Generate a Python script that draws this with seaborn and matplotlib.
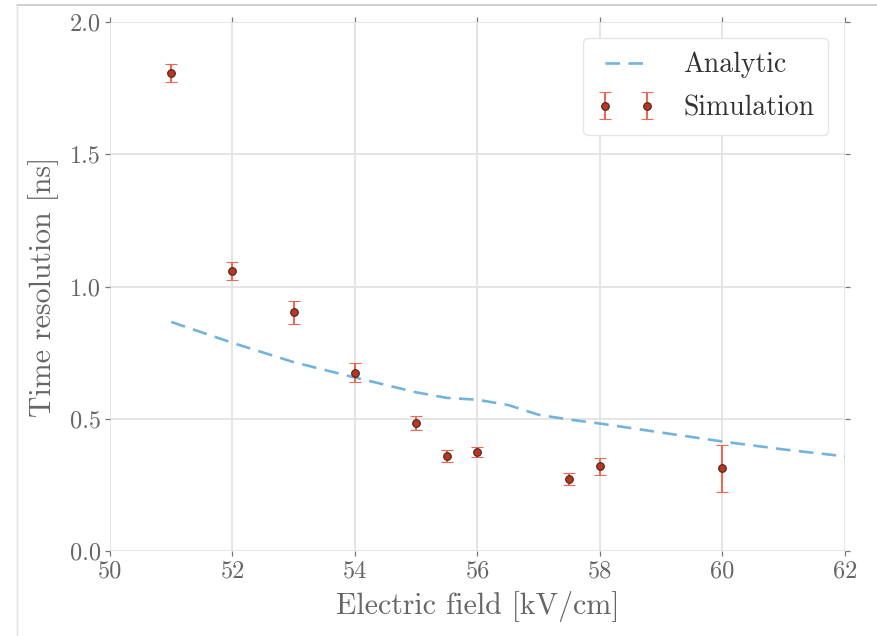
import matplotlib
matplotlib.use("Agg")
import matplotlib.pyplot as plt
import seaborn as sns
import numpy as np
import pandas as pd
from matplotlib.lines import Line2D

# ---- data ----
sim_field = [51, 52, 53, 54, 55, 55.5, 56, 57.5, 58, 60]
sim_res = [1.807, 1.058, 0.902, 0.674, 0.484, 0.359, 0.374, 0.272, 0.321, 0.313]
sim_err = [0.035, 0.033, 0.045, 0.035, 0.028, 0.024, 0.020, 0.022, 0.032, 0.088]

ana_field = [51, 52, 53, 54, 55, 55.5, 56, 56.5, 57, 57.5, 58, 59, 60, 61, 62]
ana_res = [0.866, 0.787, 0.714, 0.656, 0.600, 0.579, 0.572, 0.552, 0.515, 0.497,
           0.482, 0.448, 0.414, 0.384, 0.358]

x_ticks = [50, 52, 54, 56, 58, 60, 62]
y_ticks = [0.0, 0.5, 1.0, 1.5, 2.0]

sns.set_theme(style="whitegrid")
plt.rcParams["font.family"] = ["cmr10", "DejaVu Serif"]
plt.rcParams["mathtext.fontset"] = "cm"
plt.rcParams["axes.formatter.use_mathtext"] = True
plt.rcParams["axes.unicode_minus"] = False

text_col = "#666666"

fig = plt.figure(figsize=(8.77, 6.36), dpi=100)
ax = fig.add_axes([0.1254, 0.1336, 0.8381, 0.8318])

df_ana = pd.DataFrame({"field": ana_field, "res": ana_res})
sns.lineplot(data=df_ana, x="field", y="res", ax=ax, color="#74b3dc",
             linestyle=(0, (5.5, 3.2)), linewidth=1.9, label="Analytic")

ax.errorbar(sim_field, sim_res, yerr=sim_err, fmt="o", markersize=5.5,
            markerfacecolor="#c0341f", markeredgecolor="#3a2a28",
            markeredgewidth=0.8, ecolor="#e86a55", elinewidth=1.5,
            capsize=4, capthick=1.3, label="Simulation", zorder=3)

ax.set_xlim(50, 62)
ax.set_ylim(0, 2.0)
ax.set_xticks(x_ticks)
ax.set_yticks(y_ticks)
ax.set_xticklabels([str(v) for v in x_ticks])
ax.set_yticklabels([f"{v:.1f}" for v in y_ticks])

ax.grid(True, color="#e3e3e3", linewidth=1.3)
for s in ax.spines.values():
    s.set_visible(False)
ax.tick_params(axis="both", which="both", direction="out", length=3.5,
               width=0.9, color="#777777", labelsize=17.5, labelcolor=text_col,
               top=True, right=True, bottom=True, left=True, pad=3)
ax.tick_params(axis="x", which="both", labeltop=False)
ax.tick_params(axis="y", which="both", labelright=False)

ax.set_xlabel("Electric field [kV/cm]", fontsize=21.5, color=text_col, labelpad=6)
ax.set_ylabel("Time resolution [ns]", fontsize=21.5, color=text_col, labelpad=8)

leg = ax.legend(loc="upper right", fontsize=20, numpoints=2, frameon=True,
                fancybox=True, framealpha=1.0, edgecolor="#e6e6e6",
                handlelength=2.1, borderpad=0.5, labelspacing=0.6,
                handletextpad=1.0, borderaxespad=0.0,
                bbox_to_anchor=(0.977, 0.970))
for t in leg.get_texts():
    t.set_color("#333333")

# screenshot frame lines (top and left)
fig.add_artist(Line2D([17 / 877, 1.0], [1 - 5 / 636, 1 - 5 / 636],
                      transform=fig.transFigure, color="#c8c8c8", linewidth=1.2))
fig.add_artist(Line2D([17 / 877, 17 / 877], [0.0, 1 - 5 / 636],
                      transform=fig.transFigure, color="#e0e0e0", linewidth=1.0))

fig.savefig("out.png", dpi=100)
